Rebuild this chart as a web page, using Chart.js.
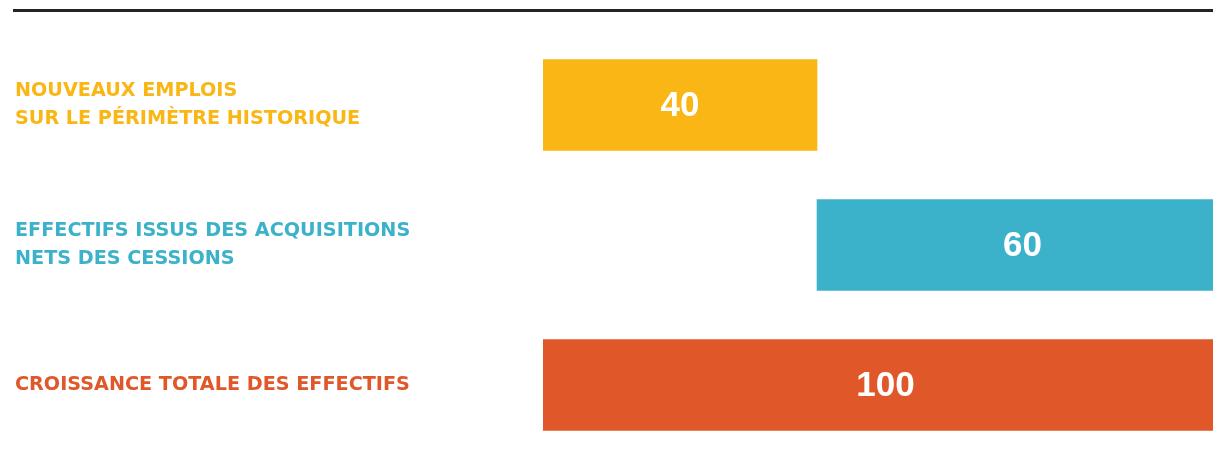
<!DOCTYPE html>
<html>
<head>
<meta charset="utf-8">
<script src="https://cdn.jsdelivr.net/npm/chart.js@4"></script>
<style>
  html, body { margin: 0; padding: 0; background: #ffffff; }
  #chart { display: block; }
</style>
</head>
<body>
<canvas id="chart" width="1213" height="476"></canvas>
<script>
// =========================
// Data
// =========================

const categories = [
    ["NOUVEAUX EMPLOIS", "SUR LE PÉRIMÈTRE HISTORIQUE"],
    ["EFFECTIFS ISSUS DES ACQUISITIONS", "NETS DES CESSIONS"],
    ["CROISSANCE TOTALE DES EFFECTIFS"]
];

const barStarts = [0, 40, 0];
const barEnds = [40, 100, 100];

const colors = ["#f9b614", "#3cb2ca", "#e0572a"];

// =========================
// Plugins
// =========================

const topRule = {
    id: "topRule",
    afterDraw(chart) {
        const ctx = chart.ctx;
        ctx.save();
        ctx.fillStyle = "#232323";
        ctx.fillRect(13, 9, chart.width - 13, 3);
        ctx.restore();
    }
};

const valueLabels = {
    id: "valueLabels",
    afterDatasetsDraw(chart) {
        const ctx = chart.ctx;
        const meta = chart.getDatasetMeta(0);
        ctx.save();
        ctx.fillStyle = "#ffffff";
        ctx.font = "bold 35px 'Liberation Sans'";
        ctx.textAlign = "center";
        ctx.textBaseline = "middle";
        meta.data.forEach((bar, i) => {
            const value = barEnds[i] - barStarts[i];
            const cx = (bar.x + bar.base) / 2;
            ctx.fillText(String(value), cx, bar.y + 1);
        });
        ctx.restore();
    }
};

// =========================
// Chart
// =========================

new Chart(document.getElementById("chart"), {
    type: "bar",
    data: {
        labels: categories,
        datasets: [{
            data: barStarts.map((s, i) => [s, barEnds[i]]),
            backgroundColor: colors,
            borderWidth: 0,
            barThickness: 91
        }]
    },
    options: {
        indexAxis: "y",
        responsive: false,
        animation: false,
        layout: {
            padding: { left: 15, right: 0, top: 35, bottom: 21 }
        },
        plugins: {
            legend: { display: false },
            tooltip: { enabled: false }
        },
        scales: {
            x: {
                display: false,
                min: 0,
                max: 97.8
            },
            y: {
                grid: { display: false },
                border: { display: false },
                afterFit(axis) {
                    axis.width = 528;
                    axis.paddingTop = 0;
                    axis.paddingBottom = 0;
                },
                ticks: {
                    crossAlign: "far",
                    color: colors,
                    font: {
                        family: "'DejaVu Sans'",
                        weight: "bold",
                        size: 19.2,
                        lineHeight: 1.48
                    }
                }
            }
        }
    },
    plugins: [topRule, valueLabels]
});
</script>
</body>
</html>
